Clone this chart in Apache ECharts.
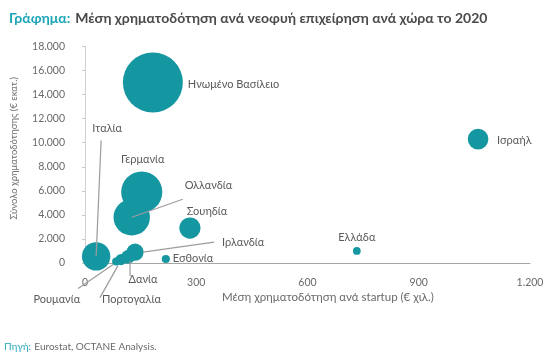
<!DOCTYPE html>
<html>
<head>
<meta charset="utf-8">
<script src="https://cdn.jsdelivr.net/npm/echarts@6/dist/echarts.min.js"></script>
<style>html,body{margin:0;padding:0;background:#fff;}#c{width:549px;height:362px;}</style>
</head>
<body>
<div id="c"></div>
<script>
// ---- data ----
const countries = ['Ηνωμένο Βασίλειο','Ισραήλ','Γερμανία','Ολλανδία','Σουηδία','Ιταλία','Ιρλανδία','Δανία','Πορτογαλία','Ρουμανία','Εσθονία','Ελλάδα'];
// average funding per startup (€ thousand)
const avgFunding   = [183, 1060, 153, 126, 283, 30, 135, 116, 97, 84, 218, 733];
// total funding (€ million)
const totalFunding = [15000, 10300, 5900, 3800, 2900, 550, 900, 500, 280, 125, 330, 1000];
const yTicks = [0, 2000, 4000, 6000, 8000, 10000, 12000, 14000, 16000, 18000];
const xTicks = [0, 300, 600, 900, 1200];

// ---- label layout (pixel offsets from bubble centre) ----
const labelCfg = {
  'Ηνωμένο Βασίλειο': {dx: 35, dy: 2, align: 'left'},
  'Ισραήλ':           {dx: 19, dy: 1, align: 'left'},
  'Γερμανία':         {dx: 1, dy: -33, align: 'center'},
  'Ολλανδία':         {dx: 53, dy: -32, align: 'left', line: [0, 0, 51, -18]},
  'Σουηδία':          {dx: 17, dy: -17, align: 'center'},
  'Ιταλία':           {dx: 11, dy: -128, align: 'center', line: [0, 0, 5, -116]},
  'Ιρλανδία':         {dx: 87, dy: -10, align: 'left', line: [8, 0, 79, -10]},
  'Δανία':            {dx: 15, dy: 22, align: 'center', line: [2, 4, 2, 19]},
  'Πορτογαλία':       {dx: -19, dy: 40, align: 'left', line: [-3, 6, -21, 38]},
  'Ρουμανία':         {dx: -36, dy: 38, align: 'right', line: [-3, 3, -38, 27]},
  'Εσθονία':          {dx: 7, dy: -1, align: 'left'},
  'Ελλάδα':           {dx: 0, dy: -14, align: 'center'}
};

const FONT = 'Lato, "Noto Sans", sans-serif';
const TEAL = '#1597a2';
const fmt = v => String(v).replace(/\B(?=(\d{3})+(?!\d))/g, '.');

const points = countries.map((c, i) => [avgFunding[i], totalFunding[i]]);
const K = 0.1048; // radius scale for number of startups

const chart = echarts.init(document.getElementById('c'), null, {renderer: 'canvas'});
chart.setOption({
  animation: false,
  backgroundColor: '#fff',
  title: {
    left: 4, top: 4,
    text: '{a|Γράφημα:} {b|Μέση χρηματοδότηση ανά νεοφυή επιχείρηση ανά χώρα το 2020}',
    textStyle: {
      rich: {
        a: {color: '#1aa6b6', fontSize: 14, fontWeight: 'bold', fontFamily: FONT},
        b: {color: '#4a4a4a', fontSize: 14, fontWeight: 'bold', fontFamily: FONT}
      }
    }
  },
  grid: {left: 85, right: 19, top: 46.5, bottom: 99, containLabel: false},
  xAxis: {
    type: 'value', min: xTicks[0], max: xTicks[xTicks.length - 1], interval: 300,
    splitLine: {show: false},
    axisLine: {show: true, lineStyle: {color: '#a6a6a6', width: 1}},
    axisTick: {show: false},
    axisLabel: {margin: 14, color: '#6a6a6a', fontSize: 10.5, fontFamily: FONT, formatter: fmt}
  },
  yAxis: {
    type: 'value', min: yTicks[0], max: yTicks[yTicks.length - 1], interval: 2000,
    name: 'Σύνολο χρηματοδότησης (€ εκατ.)',
    nameLocation: 'middle', nameGap: 66, nameRotate: 90,
    nameTextStyle: {color: '#707070', fontSize: 9.5, fontFamily: FONT, padding: [0, 0, 0, 13]},
    splitLine: {show: false},
    axisLine: {show: true, lineStyle: {color: '#d0d0d0', width: 1}},
    axisTick: {show: true, length: 3, lineStyle: {color: '#c8c8c8'}},
    axisLabel: {margin: 20, color: '#6a6a6a', fontSize: 10.5, fontFamily: FONT, formatter: fmt}
  },
  graphic: [
    {type: 'text', left: 222, top: 291,
     style: {text: 'Μέση χρηματοδότηση ανά startup (€ χιλ.)', fill: '#6a6a6a', font: '11.5px ' + FONT}},
    {type: 'text', left: 4, top: 341,
     style: {text: '{a|Πηγή:} {b|Eurostat, OCTANE Analysis.}',
       rich: {a: {fill: '#29a9bb', fontSize: 10, fontFamily: FONT}, b: {fill: '#6a6a6a', fontSize: 10, fontFamily: FONT}}}}
  ],
  series: [
    {
      type: 'scatter',
      data: points,
      symbolSize: v => 2 * K * Math.sqrt(v[1] / v[0] * 1000),
      itemStyle: {color: TEAL, opacity: 1},
      z: 2
    },
    {
      type: 'custom',
      data: points,
      z: 3,
      renderItem: function (params, api) {
        const i = params.dataIndex;
        const c = api.coord([api.value(0), api.value(1)]);
        const L = labelCfg[countries[i]];
        const children = [];
        if (L.line) {
          children.push({type: 'line',
            shape: {x1: c[0] + L.line[0], y1: c[1] + L.line[1], x2: c[0] + L.line[2], y2: c[1] + L.line[3]},
            style: {stroke: '#9c9c9c', lineWidth: 1.2}});
        }
        children.push({type: 'text',
          style: {x: c[0] + L.dx, y: c[1] + L.dy, text: countries[i], fill: '#5a5a5a',
                  font: '11px ' + FONT, textAlign: L.align, textVerticalAlign: 'middle'}});
        return {type: 'group', children: children};
      }
    }
  ]
});
</script>
</body>
</html>
